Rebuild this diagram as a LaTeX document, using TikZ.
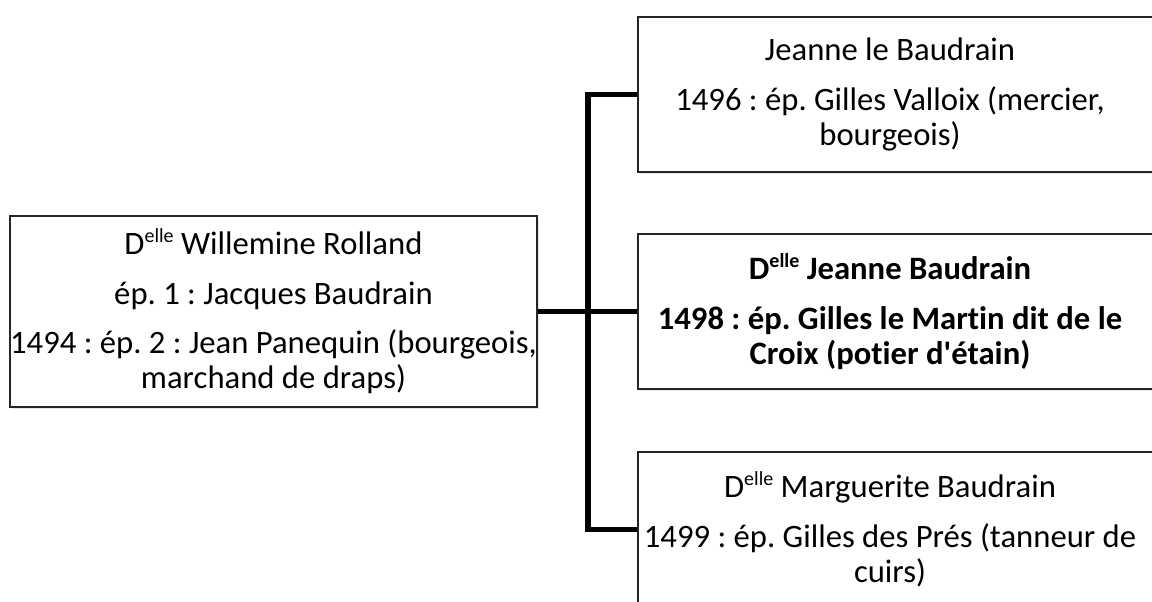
\documentclass[tikz,border=0pt]{standalone}
\usepackage{fontspec}
\setmainfont{Carlito}[Ligatures={TeX,NoCommon}]
\usetikzlibrary{shadows}
\newcommand{\myelle}{\raisebox{0.36em}{\fontsize{15pt}{15pt}\selectfont elle}}
\begin{document}
\frenchspacing
\begin{tikzpicture}[x=0.75pt,y=-0.75pt,
  box/.style={draw=black!85, line width=1.1pt, fill=white, rectangle, inner sep=0pt,
    drop shadow={shadow xshift=1.2pt,shadow yshift=-1.8pt,opacity=0.22}},
  leftbox/.style={box, minimum width=527*0.75pt, minimum height=190*0.75pt},
  rightbox/.style={box, minimum width=560*0.75pt, minimum height=155*0.75pt},
  conn/.style={line width=3.8pt, line join=miter},
  txt/.style={align=center, font=\fontsize{24.5pt}{26.25pt}\selectfont, inner sep=0pt}]
\useasboundingbox (0,0) rectangle (1152,601);
\clip (0,0) rectangle (1152,601);
\coordinate (J) at (588,311.5);
% boxes
\node[leftbox] (L) at (273.5,311.5) {};
\node[rightbox] (T) at (918,94.5) {};
\node[rightbox] (M) at (918,311.5) {};
\node[rightbox] (B) at (918,529.5) {};
% connectors
\draw[conn] (T.west) -| (J) |- (B.west);
\draw[conn] (L.east) -- (M.west);
% redraw box borders over connector ends
\draw[line width=1.1pt, draw=black!85] (L.north west) rectangle (L.south east);
\draw[line width=1.1pt, draw=black!85] (T.north west) rectangle (T.south east);
\draw[line width=1.1pt, draw=black!85] (M.north west) rectangle (M.south east);
\draw[line width=1.1pt, draw=black!85] (B.north west) rectangle (B.south east);
% texts
\node[txt] (Lt) at (L) {D\myelle{} Willemine Rolland\\[11pt]
  ép. 1 : Jacques Baudrain\\[11pt]
  1494 : ép. 2 : Jean Panequin (bourgeois,\\ marchand de draps)};
\node[txt] (Tt) at (890,94.5) {Jeanne le Baudrain\\[11pt]
  1496 : ép. Gilles Valloix (mercier,\\ bourgeois)};
\node[txt, font=\fontsize{24.5pt}{26.25pt}\selectfont\bfseries] (Mt) at (890,311.5) {D\myelle{} Jeanne Baudrain\\[11pt]
  1498 : ép. Gilles le Martin dit de le\\ Croix (potier d\textquotesingle étain)};
\node[txt] (Bt) at (890,529.5) {D\myelle{} Marguerite Baudrain\\[11pt]
  1499 : ép. Gilles des Prés (tanneur de\\ cuirs)};
\end{tikzpicture}
\end{document}
